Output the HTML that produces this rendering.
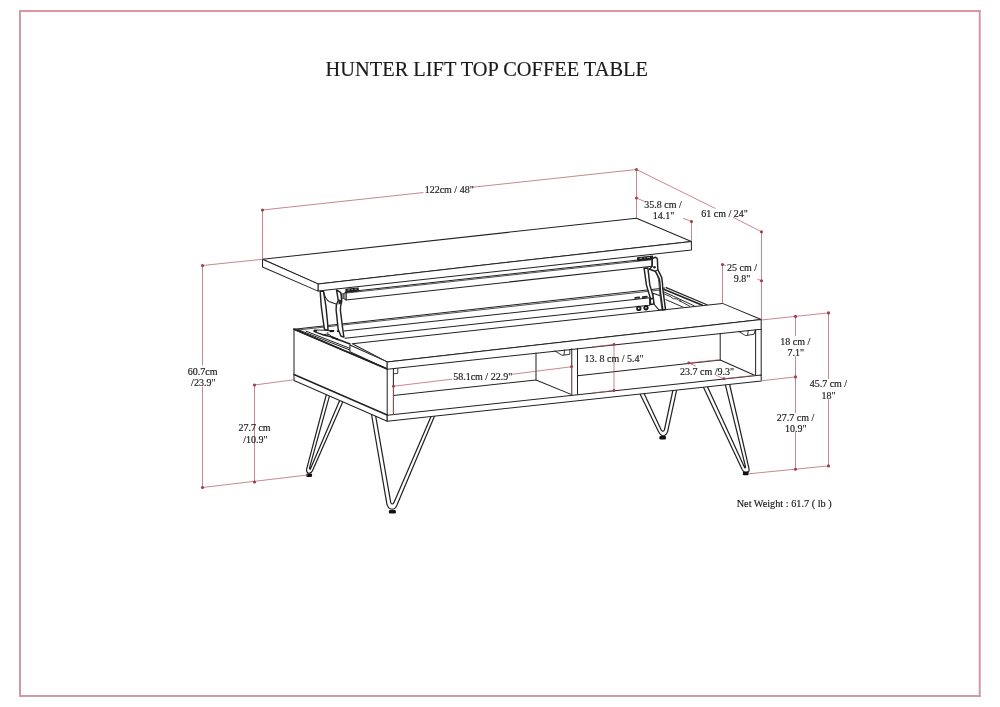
<!DOCTYPE html>
<html>
<head>
<meta charset="utf-8">
<title>Hunter Lift Top Coffee Table</title>
<style>
html,body{margin:0;padding:0;background:#fff;}
body{width:1000px;height:707px;overflow:hidden;position:relative;font-family:"Liberation Serif",serif;}
svg{position:absolute;left:0;top:0;}
.k{fill:none;stroke:#222;stroke-width:1.02;stroke-linecap:round;stroke-linejoin:round;}
.kf{fill:#fff;stroke:#222;stroke-width:1.02;stroke-linecap:round;stroke-linejoin:round;}
.t{fill:none;stroke:#333;stroke-width:0.85;stroke-linecap:round;stroke-linejoin:round;}
.r{fill:none;stroke:#b25862;stroke-width:0.72;stroke-linecap:round;}
.d{fill:#a23c4b;stroke:none;}
#legs .k{stroke-width:1.22;}
text{font-family:"Liberation Serif",serif;fill:#1c1c1c;stroke:#1c1c1c;stroke-width:0.18;}
.l{font-size:10px;text-anchor:middle;}
</style>
</head>
<body>
<svg width="1000" height="707" viewBox="0 0 1000 707">
<!-- frame -->
<rect x="19" y="10" width="961.7" height="2" fill="#e1949d"/>
<rect x="19" y="695" width="961.7" height="1.95" fill="#cf9aa3"/>
<rect x="19" y="10" width="2" height="687" fill="#cc9ca6"/>
<rect x="978.75" y="10" width="1.95" height="687" fill="#c899a2"/>

<!-- title -->

<!-- ============ LEGS ============ -->
<g id="legs">
<!-- back-left -->
<path class="k" d="M326.5 394 L306.5 469.6 Q306.6 473.6 309.6 473.2 Q311.6 473 312.6 470.6 L343.7 399.8"/>
<path class="k" d="M329.7 395.2 L309.4 468.4 Q309.9 469.8 310.6 468.6 L340.5 398.6"/>
<rect x="306.3" y="473.4" width="5.8" height="3.6" rx="1.3" fill="#111"/>
<!-- front-left -->
<path class="k" d="M371.1 412 L387 504.6 Q388.6 509.2 392.2 509.2 Q395.6 509.2 397.2 504.6 L435.6 413.6"/>
<path class="k" d="M375.2 413.4 L390.7 502.4 Q392.3 505.6 394 502.4 L431.9 414.4"/>
<rect x="388.9" y="509.9" width="7" height="3.6" rx="1.3" fill="#111"/>
<!-- back-right -->
<path class="k" d="M638.1 389.9 L658.2 431 Q660.6 435.8 663 435.8 Q666 435.8 667.6 431.6 L677.4 386.7"/>
<path class="k" d="M642.2 389.6 L661 429.6 Q662.8 432.6 664.4 430 L673.6 387"/>
<rect x="659.4" y="436" width="6.6" height="3.5" rx="1.3" fill="#111"/>
<!-- front-right -->
<path class="k" d="M701.7 383.4 L742.4 470 Q744 472.8 746.4 472.6 Q749.8 472.2 749 468.6 L728.7 380.5"/>
<path class="k" d="M705.8 383 L744.6 467.4 Q745.2 468.6 745.6 467.2 L724.4 380.9"/>
<rect x="742.8" y="471.6" width="5.8" height="3.6" rx="1.3" fill="#111"/>
</g>

<!-- ============ BASE ============ -->
<g id="base">
<!-- back panel top (double line a) -->
<path class="k" d="M294 329.2 L665 288"/>
<path class="t" d="M296 330.2 L664 289.6"/>
<!-- inner rails b, c -->
<path class="k" d="M343.9 330.9 L650.2 297.8"/>
<path class="k" d="M345 338.2 L649.6 305.2 L649.6 298"/>
<!-- right side panel top edges (cavity) -->
<path class="k" style="stroke-width:1.15" d="M666.2 287.6 L707 304.8"/>
<path class="k" style="stroke-width:1.6" d="M664.4 289.5 L702.4 305.3"/>
<path class="k" style="stroke-width:0.95" d="M664 291.9 L694.3 305.9"/>
<path class="k" style="stroke-width:0.9" d="M664.4 294 L671 296.8 q1 1.7 2.6 1.9 l3.4 0.3 q1.2 0.2 1.6 1.2 L690 306.4"/>
<path class="k" style="stroke-width:0.95" d="M665.8 299.6 L683.4 307.3"/><circle cx="680.3" cy="301" r="0.8" fill="#222"/>
<!-- left mechanism plate -->
<path class="k" style="stroke-width:1.0" d="M297.7 329.5 L349.5 349.9"/>
<path class="k" style="stroke-width:1.0" d="M306.1 331.2 L349.5 348.2"/>
<path class="k" style="stroke-width:1.6" d="M314 331 Q316 332.6 323 334.7 L331 336.7 L350 344"/>
<path class="k" style="stroke-width:0.95" d="M314.6 330 L330 330.4 M323.6 334.8 Q327 333.5 329.4 334.6 L332 336.8"/>
<path d="M313.6 330 l3.6 0 l0 1.5 l-3.2 0.4 Z M329.2 330 l5 0 l0 2 l-4.6 0.3 Z M336.9 330.2 l2.2 0.2 l0 1.7 l-2.2 -0.2 Z M331.2 336.2 l3.4 0.8 l0.4 2.2 l-3.4 -1 Z M335.2 337.6 l2.8 0.9 l0.2 1.9 l-2.8 -0.9 Z" fill="#1a1a1a"/>
<circle cx="327.8" cy="333" r="0.7" fill="#1a1a1a"/>
<!-- fixed top strip -->
<path class="kf" d="M352.3 343.8 L722.4 303.4 L761.2 319.5 L387.2 361.9 Z"/>
<!-- strip left end face -->
<path class="kf" d="M349.9 345 L387.2 361.9 L387.2 369 L349.9 351.6 Z"/>
<!-- left side face -->
<path class="kf" d="M294 329.2 L387.2 369 L387.2 421.3 L294 380.5 Z"/>
<path class="k" style="stroke-width:1.9" d="M294 329.2 L387.2 369"/>
<path class="k" style="stroke-width:1.5" d="M294 374.5 L387.2 415"/>
<!-- front face top panel -->
<path class="kf" d="M387.2 361.9 L761.2 319.5 L761.2 329.2 L387.2 369.2 Z"/>
<!-- bottom panel front -->
<path class="kf" d="M387.2 415.2 L761.2 374.9 L761.2 381 L387.2 421.3 Z"/>
<!-- right end -->
<path class="k" d="M761.2 329.2 L761.2 375.3"/>
<path class="k" d="M755.6 329.8 L755.6 375.6"/>
<!-- left inner edge -->
<path class="k" d="M393.4 368.6 L393.4 414.5"/>
<path class="k" style="stroke-width:0.9" d="M397.8 368.6 L397.8 373.4 L393.6 373.8"/>
<!-- floor back edge & right -->
<path class="k" d="M393.4 395.4 L536 380"/>
<path class="k" d="M577.5 375.7 L720.2 360 L754.6 375.3"/>
<path class="k" d="M720.2 333.6 L720.2 360"/>
<!-- divider -->
<path class="k" d="M571.75 348.8 L571.75 394.6 M577.5 348.2 L577.5 394"/>
<path class="k" d="M536 353 L536 380 L571.75 394.6"/>
<!-- small brackets under top -->
<path class="k" style="stroke-width:0.9" d="M554.8 350.9 L562 355.3 L569.8 354.4 L569.8 349.6 M564.6 349.9 L564 355"/>
<path class="k" style="stroke-width:0.9" d="M738.5 331.4 L745.7 335.6 L754.1 334.2 L755.3 330 M748.2 330.6 L747.6 335.2"/>
</g>

<!-- ============ MECHANISM ARMS + UNDER-TOP RAIL ============ -->
<g id="mech">
<!-- under-top rail -->
<path class="kf" d="M346 292 L652.2 258.5 L652.2 266.3 L346 299.9 Z"/>
<path class="t" d="M346 293.1 L652 259.7"/>
<!-- rail left end cap -->
<path class="kf" d="M343.9 293.6 L346 292 L346 299.9 L343.9 298.6 Z"/>
<rect x="341" y="293.8" width="2.9" height="4.8" fill="#8c8c8c" stroke="#2a2a2a" stroke-width="0.6"/>
<!-- dark brackets on rail -->
<path d="M345.4 288.8 L358.6 287.4 L358.9 291.4 L345.6 292.8 Z" fill="#1e1e1e"/>
<path d="M347.6 290.1 l2.2 -0.25 M351.6 289.6 l1.2 -0.12 M354.6 289.3 l2.2 -0.25" stroke="#ddd" stroke-width="0.7" fill="none"/>
<path d="M637 257.2 L653 255.5 L653.3 259.6 L637.2 261.3 Z" fill="#1e1e1e"/>
<path d="M639.6 258.5 l2.6 -0.3 M644.3 258 l1.2 -0.12 M647 257.7 l3 -0.3" stroke="#ddd" stroke-width="0.7" fill="none"/>
<!-- left arm A -->
<path class="kf" style="stroke-width:1.45" d="M320.2 291.3 Q320.8 306 322.8 318 L324.4 329.2 L328 330.4 Q327.9 326 327.5 322 Q326.4 306 323.5 291.3 Z"/>
<path class="k" d="M323.6 291.8 Q325.6 299.6 329 301.4 L337.4 304.6"/>
<!-- left arm B -->
<path class="kf" style="stroke-width:1.45" d="M336.5 289.9 Q337.6 296 338.2 300.5 Q335.6 305 336.1 309.7 L338.2 329.5 L340.9 336 L343.9 337.2 L342.8 329.5 L340.4 310.4 Q340.4 305 341.8 301.2 Q341.4 296 340.7 292.7 Z"/>
<path d="M338.2 299.2 L341.6 300 L341.6 303.6 L338.6 304.4 Z" fill="#2a2a2a"/>
<!-- right arm 1 -->
<path class="kf" style="stroke-width:1.45" d="M644.1 268.3 L646.4 284.9 L649.1 294 L650.6 298.6 L653.3 298.6 L652.9 295.6 L649.8 284.9 L647.9 268 Z"/>
<path class="kf" style="stroke-width:1.4" d="M650.3 298.8 L653.6 298.5 L653.8 304 L650.5 304.5 Z"/>
<!-- mount bracket beside arm 2 -->
<path class="kf" d="M652.9 293.3 L661 296 L662.8 309.7 L658.6 309.7 L654.4 304.7 Z"/>
<!-- right end plate + arm 2 -->
<path class="kf" style="stroke-width:1.45" d="M652.2 258.5 L655.6 257.3 Q657.2 257.6 657.4 259.4 L657.8 269.6 L661.7 277.3 Q662.6 283 662.8 288.7 L665.5 309.6 L662.8 309.8 L660.5 292.5 Q660.2 284 659.4 278.8 L655.2 271.2 L649.3 269.2 L652.2 266.3 Z"/>
<path class="k" d="M652.2 258.5 L652.2 266.3 M655.2 271.2 L657.9 269.6"/>
<path class="t" d="M656.4 272 L658.5 279.4 Q659.3 286 659.6 292.5 L661.9 309.6"/>
<circle cx="654.5" cy="267.3" r="1.25" fill="#1e1e1e"/>
<!-- bolts -->
<circle class="k" style="stroke-width:1.8;stroke:#1a1a1a" cx="638.8" cy="308.4" r="1.7"/><circle class="k" style="stroke-width:1.8;stroke:#1a1a1a" cx="646" cy="307.8" r="1.7"/>
<path class="k" style="stroke-width:1.9" d="M635.2 297.9 l4 -0.4 M642.8 297.1 l4 -0.4"/>
</g>


<!-- ============ TOP BOARD ============ -->
<g id="top">
<path class="kf" d="M262.5 259.3 L636.5 218.25 L691.4 241.5 L318 283.9 Z"/>
<path class="kf" d="M318 283.9 L691.4 241.5 L691.4 250 L318 291.1 Z"/>
<path class="kf" d="M262.5 259.3 L318 283.9 L318 291.1 L262.5 267 Z"/>
</g>

<!-- ============ DIMENSIONS ============ -->
<g id="dims">
<!-- 122cm -->
<path class="r" d="M262.5 210 L423 192.6 M473 187.2 L636.5 169.5"/>
<path class="r" d="M262.5 210 L262.5 259"/>
<path class="r" d="M636.5 169.5 L636.5 218"/>
<circle class="d" cx="262.5" cy="210" r="1.55"/>
<circle class="d" cx="636.5" cy="169.5" r="1.55"/>
<circle class="d" cx="636.5" cy="198" r="1.55"/>
<!-- 35.8 -->
<path class="r" d="M636.5 198 L644 201.3 M683.5 218.4 L691.5 221.5 L691.5 240.5"/>
<circle class="d" cx="691.5" cy="221.5" r="1.55"/>
<!-- 61 -->
<path class="r" d="M636.5 169.5 L715 208.3 M733.5 217.5 L761.5 231.75"/>
<path class="r" d="M761.5 231.75 L761.5 319.5 M757.8 279.3 L761.5 280.75"/>
<circle class="d" cx="761.5" cy="231.75" r="1.55"/>
<circle class="d" cx="761.5" cy="280.75" r="1.55"/>
<!-- 25 -->
<path class="r" d="M722.5 264.5 L722.5 303 M722.5 264.5 l3.2 1"/>
<circle class="d" cx="722.5" cy="264.5" r="1.55"/>
<!-- left 60.7 -->
<path class="r" d="M202.5 265.5 L262.5 259.3"/>
<path class="r" d="M202.5 265.5 L202.5 365 M202.5 387 L202.5 487.5"/>
<path class="r" d="M202.5 487.5 L307.5 475"/>
<circle class="d" cx="202.5" cy="265.5" r="1.55"/>
<circle class="d" cx="202.5" cy="487.5" r="1.55"/>
<!-- left 27.7 -->
<path class="r" d="M254.5 385 L293.75 379.8"/>
<path class="r" d="M254.5 385 L254.5 482"/>
<circle class="d" cx="254.5" cy="385" r="1.55"/>
<circle class="d" cx="254.5" cy="482" r="1.55"/>
<!-- 58.1 -->
<path class="r" d="M393.5 386.25 L393.5 414.6"/>
<path class="r" d="M393.5 386.25 L451.5 379.2 M512 374.3 L571.5 366.75 L571.5 394.4"/>
<circle class="d" cx="393.5" cy="386.25" r="1.45"/>
<circle class="d" cx="571.5" cy="366.75" r="1.45"/>
<!-- 13.8 -->
<path class="r" d="M614 344.5 L614 390.5"/>
<path class="r" d="M592.5 346.8 L614 344.5 M592.5 393 L614 390.5"/>
<circle class="d" cx="614" cy="344.5" r="1.45"/>
<circle class="d" cx="614" cy="390.5" r="1.45"/>
<!-- 23.7 -->
<path class="r" d="M688.75 363 L718 359.9 M724 378.7 L755 375.4 M688.75 363 L695.5 366 M716.5 375.5 L724 378.7"/>
<circle class="d" cx="688.75" cy="363" r="1.45"/>
<circle class="d" cx="724" cy="378.7" r="1.45"/>
<!-- right dims -->
<path class="r" d="M761.3 320 L828.5 312.9"/>
<path class="r" d="M761.3 380.8 L795.5 376.9"/>
<path class="r" d="M748.8 473.8 L828.5 465.9"/>
<path class="r" d="M795.5 316.4 L795.5 335.6 M795.5 356.6 L795.5 412.6 M795.5 432.6 L795.5 469.3"/>
<path class="r" d="M828.5 312.9 L828.5 378.6 M828.5 399.6 L828.5 465.8"/>
<circle class="d" cx="795.5" cy="316.4" r="1.55"/>
<circle class="d" cx="828.5" cy="312.9" r="1.55"/>
<circle class="d" cx="795.5" cy="376.9" r="1.55"/>
<circle class="d" cx="795.5" cy="469.3" r="1.55"/>
<circle class="d" cx="828.5" cy="465.9" r="1.55"/>
</g>

<g id="labels" style="filter:grayscale(1)">
<text x="486.75" y="75.7" font-size="20.4" text-anchor="middle" fill="#111" stroke="none">HUNTER LIFT TOP COFFEE TABLE</text>
<text class="l" x="449.2" y="192.6">122cm / 48"</text>
<text class="l" x="663" y="207.9">35.8 cm /</text>
<text class="l" x="663.5" y="219.3">14.1"</text>
<text class="l" x="724.5" y="216.5">61 cm / 24"</text>
<text class="l" x="742" y="271">25 cm /</text>
<text class="l" x="742" y="282">9.8"</text>
<text class="l" x="202.7" y="374.5">60.7cm</text>
<text class="l" x="203.3" y="386.4">/23.9"</text>
<text class="l" x="254.5" y="431.1">27.7 cm</text>
<text class="l" x="255.4" y="443">/10.9"</text>
<text class="l" x="482.7" y="380.3">58.1cm / 22.9"</text>
<text class="l" x="614" y="362.1">13. 8 cm / 5.4"</text>
<text class="l" x="707" y="375">23.7 cm /9.3"</text>
<text class="l" x="795.3" y="345">18 cm /</text>
<text class="l" x="795.8" y="356.2">7.1"</text>
<text class="l" x="828.4" y="387.2">45.7 cm /</text>
<text class="l" x="828.6" y="398.6">18"</text>
<text class="l" x="795.5" y="420.6">27.7 cm /</text>
<text class="l" x="795.8" y="432.2">10.9"</text>
<text x="736.7" y="506.8" font-size="10.25">Net Weight : 61.7 ( lb )</text>
</g>
</svg>
</body>
</html>
